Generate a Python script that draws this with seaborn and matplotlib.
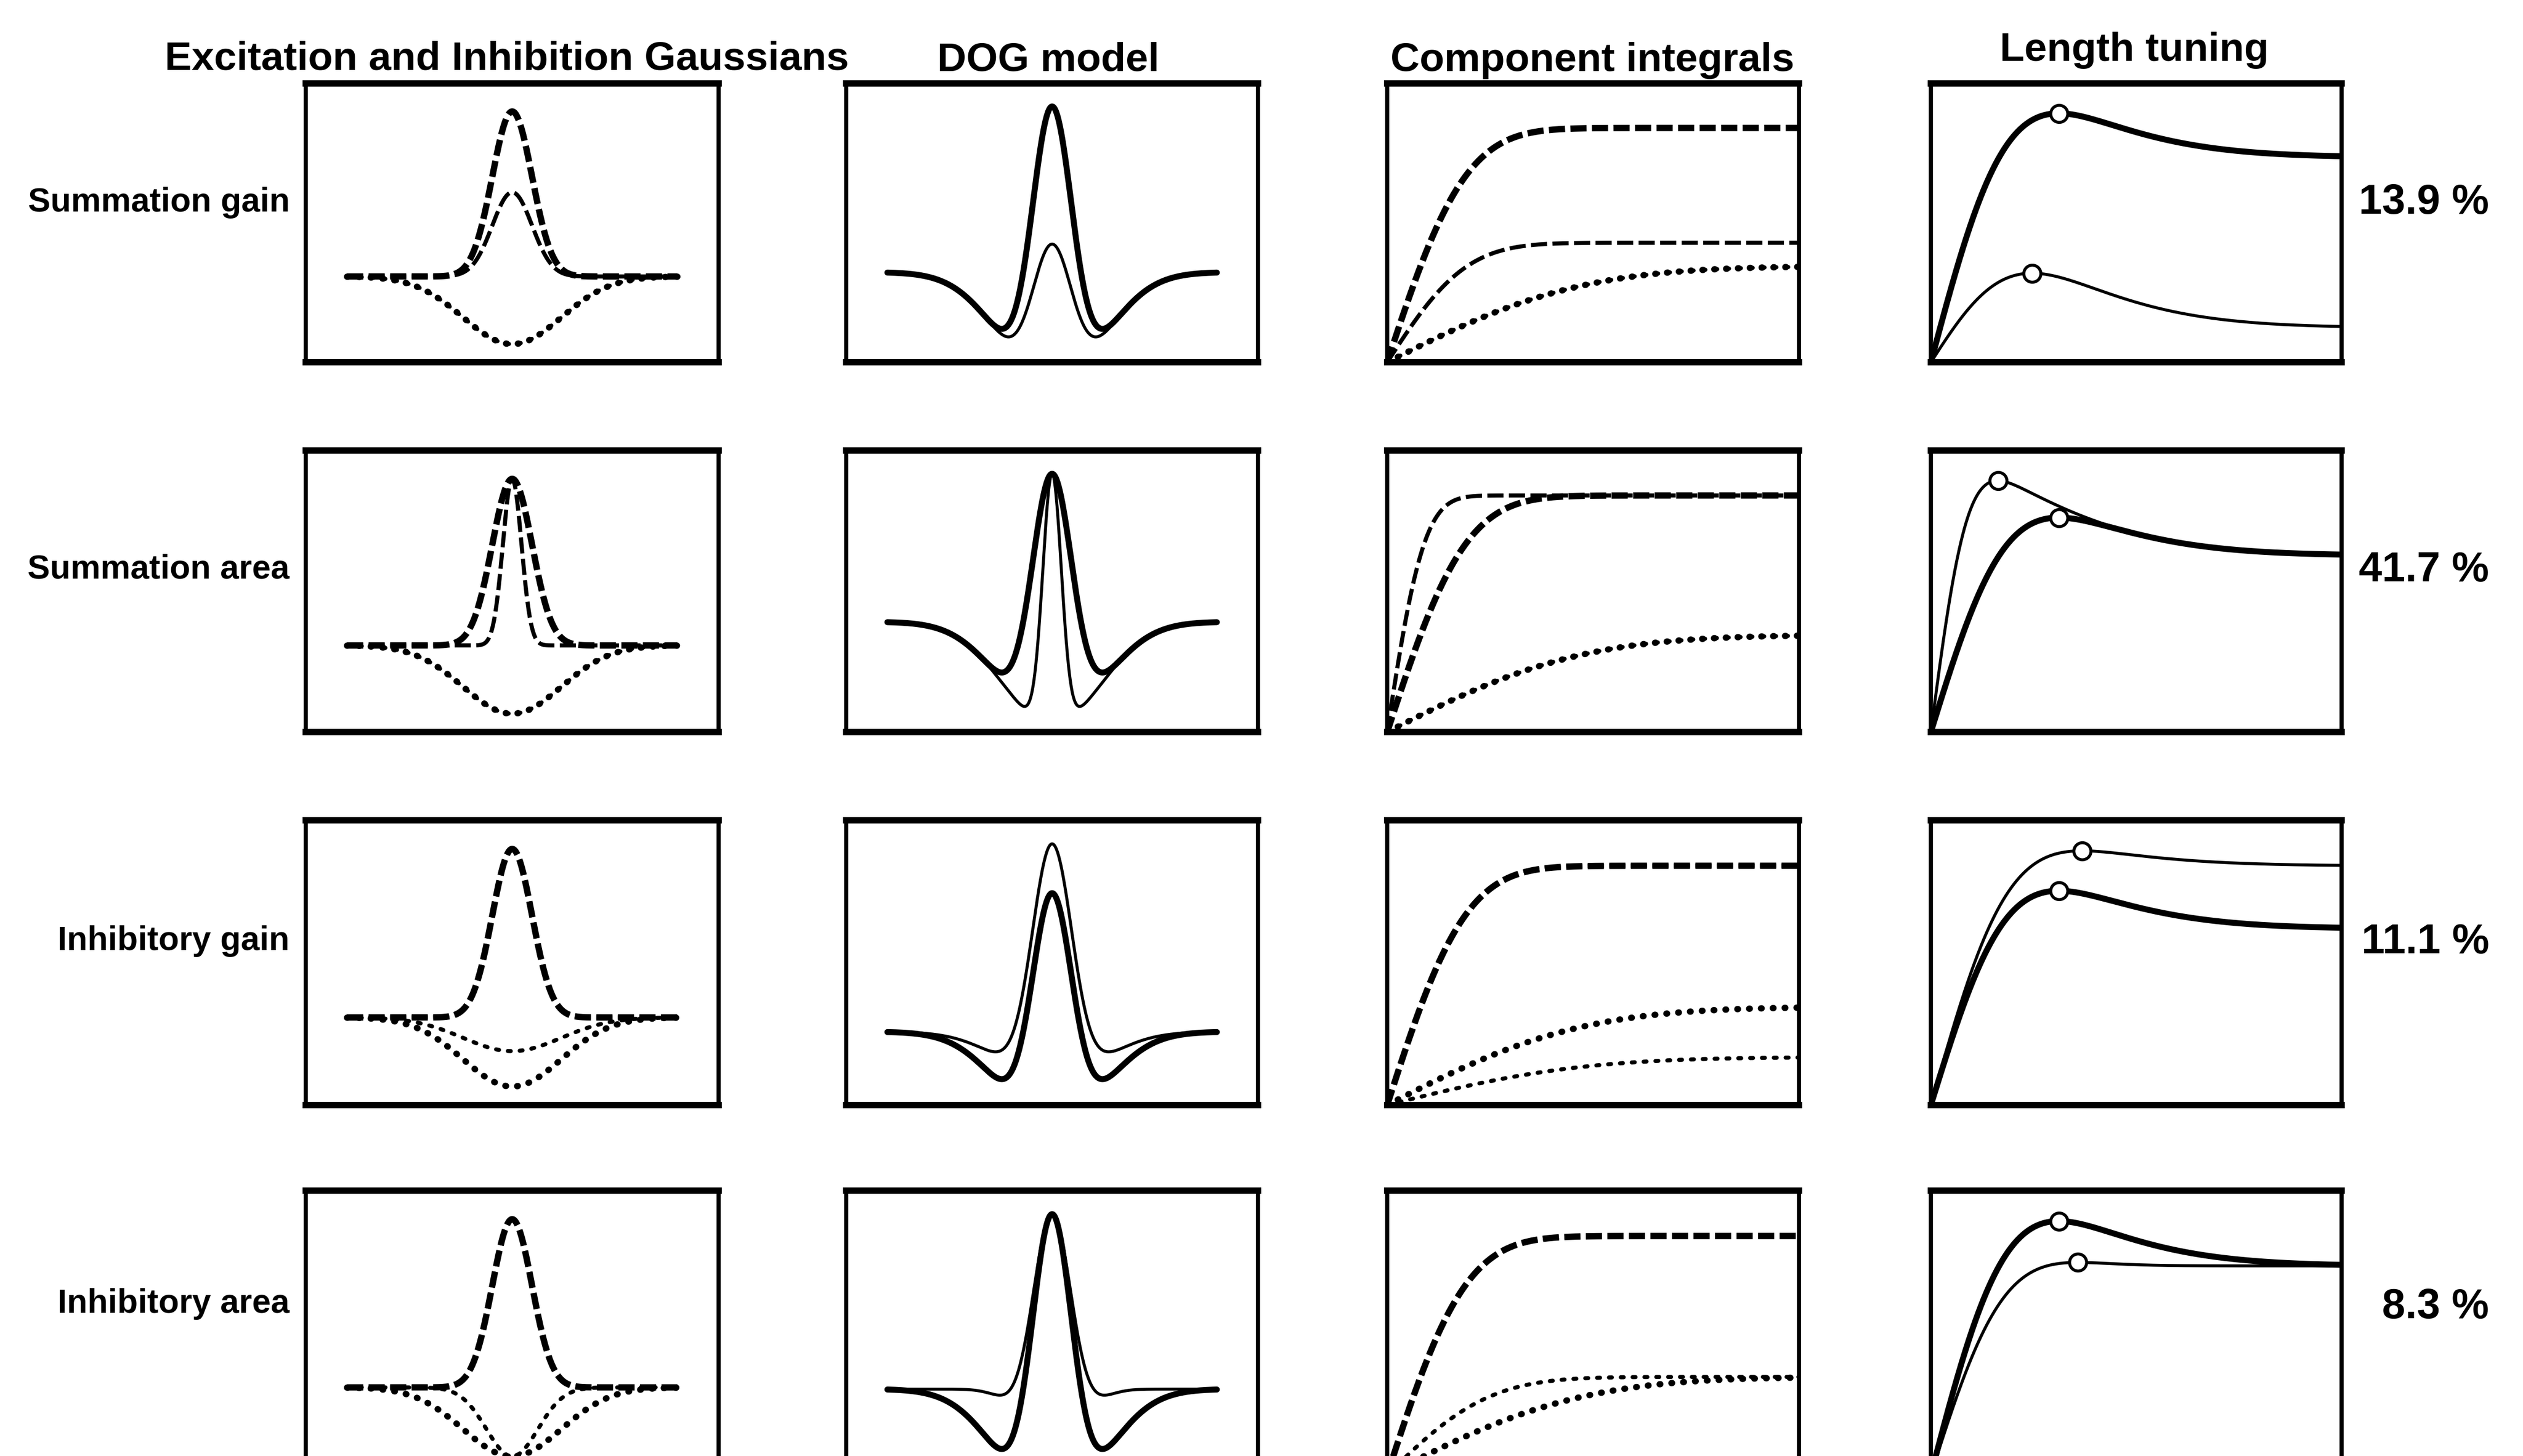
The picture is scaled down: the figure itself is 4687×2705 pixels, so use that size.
import math
import numpy as np
import pandas as pd
import matplotlib
matplotlib.use("Agg")
import matplotlib.pyplot as plt
import seaborn as sns
from matplotlib import font_manager as fm

# ---------------- data ----------------
column_titles = ["Excitation and Inhibition Gaussians", "DOG model",
                 "Component integrals", "Length tuning"]
conditions = ["Summation gain", "Summation area", "Inhibitory gain", "Inhibitory area"]
percent_labels = ["13.9 %", "41.7 %", "11.1 %", "8.3 %"]

# control model (thick lines), same in every row
ctrl_gain_exc = 1.0
ctrl_width_exc = 0.17
ctrl_gain_inh = 0.41
ctrl_width_inh = 0.42
# modified model of each row (thin lines)
mod_gain_exc = [0.51, 1.00, 1.00, 1.00]
mod_width_exc = [0.17, 0.08, 0.17, 0.17]
mod_gain_inh = [0.41, 0.41, 0.20, 0.41]
mod_width_inh = [0.42, 0.42, 0.42, 0.22]

# sampling grids (visual space and stimulus length)
space = np.linspace(-1.0, 1.0, 601)
length = np.linspace(0.0, 0.80, 601)

# ---------------- style ----------------
sns.set_style("white")
names = {f.name for f in fm.fontManager.ttflist}
NARROW = "Liberation Sans Narrow" in names
if NARROW:
    head_family = ["Liberation Sans Narrow", "DejaVu Sans"]
    title_size, pct_size = 66, 66
else:
    head_family = ["Liberation Sans", "DejaVu Sans"]
    title_size, pct_size = 54, 56
row_family = ["Liberation Sans", "DejaVu Sans"]
row_size = 45
plt.rcParams["font.family"] = ["Liberation Sans", "DejaVu Sans"]
plt.rcParams["text.color"] = "black"

W, H = 4687, 2705
fig = plt.figure(figsize=(W / 100, H / 100), dpi=100)

col_px = [(568, 1335), (1572, 2337), (2577, 3342), (3587, 4350)]
row_px = [(155, 673), (837, 1360), (1524, 2053), (2212, 2740)]

PX = 100 / 72.0  # pixels per point
LW_THICK = 8.0
LW_THIN = 4.0
LW_DASH_THICK = 8.5
LW_DASH_THIN = 5.5


def dash_style(lw):
    lwpx = lw * PX
    return (0, (30 / lwpx, 10 / lwpx))


def dot_style(lw):
    lwpx = lw * PX
    on = max(0.08, (13 - lwpx) / lwpx)
    return (0, (on, 22 / lwpx - on))


erf = np.vectorize(math.erf)


def gauss(k, s):
    return k * np.exp(-(space / s) ** 2)


def integral(k, s):
    return k * erf(length / s)


def make_ax(r, c):
    x0, x1 = col_px[c]
    y0, y1 = row_px[r]
    ax = fig.add_axes([x0 / W, 1 - y1 / H, (x1 - x0) / W, (y1 - y0) / H])
    ax.set_xticks([])
    ax.set_yticks([])
    for side in ["top", "bottom"]:
        ax.spines[side].set_linewidth(8.5)
    for side in ["left", "right"]:
        ax.spines[side].set_linewidth(5.5)
    for sp in ax.spines.values():
        sp.set_color("black")
        sp.set_visible(True)
    ax.set_facecolor("white")
    return ax


def line(ax, x, y, lw, kind, z):
    if kind == "solid":
        ls, cap = "-", "round"
    elif kind == "dash":
        ls, cap = dash_style(lw), "butt"
    else:
        ls, cap = dot_style(lw), "round"
    sns.lineplot(x=x, y=y, ax=ax, color="black", linewidth=lw, linestyle=ls,
                 dash_capstyle=cap, solid_capstyle="round", zorder=z,
                 sort=False, estimator=None)


for r in range(4):
    models = [
        (ctrl_gain_exc, ctrl_width_exc, ctrl_gain_inh, ctrl_width_inh, True),
        (mod_gain_exc[r], mod_width_exc[r], mod_gain_inh[r], mod_width_inh[r], False),
    ]
    axs = [make_ax(r, c) for c in range(4)]
    dog_all, tune_all = [], []
    for ke, se, ki, si, thick in models:
        lw = LW_THICK if thick else LW_THIN
        lwd = LW_DASH_THICK if thick else LW_DASH_THIN
        z = 3 if thick else 4
        exc = gauss(ke, se)
        inh = gauss(ki, si)
        # column 1: excitation (dashed) and inhibition (dotted) Gaussians
        line(axs[0], space, exc, lwd, "dash", z)
        line(axs[0], space, -inh, lwd, "dot", z)
        # column 2: DOG
        dog = exc - inh
        dog_all.append(dog)
        line(axs[1], space, dog, lw, "solid", z)
        # column 3: component integrals
        e_int = integral(ke, se)
        i_int = integral(ki, si)
        line(axs[2], length, e_int, lwd, "dash", z)
        line(axs[2], length, i_int, lwd, "dot", z)
        # column 4: length tuning with peak marker
        tune = e_int - i_int
        tune_all.append(tune)
        line(axs[3], length, tune, lw, "solid", z)
        k = int(np.argmax(tune))
        sns.scatterplot(x=[length[k]], y=[tune[k]], ax=axs[3], s=520, marker="o",
                        color="white", edgecolor="black", linewidth=4.0, zorder=6,
                        legend=False)

    axs[0].set_xlim(-1.25, 1.25)
    axs[0].set_ylim(-0.52, 1.17)
    axs[1].set_xlim(-1.25, 1.25)
    lo = min(d.min() for d in dog_all)
    hi = max(d.max() for d in dog_all)
    rng = hi - lo
    axs[1].set_ylim(lo - 0.11 * rng, hi + 0.10 * rng)
    axs[2].set_xlim(0, length[-1])
    axs[2].set_ylim(0, 1.19)
    axs[3].set_xlim(0, length[-1])
    axs[3].set_ylim(0, 1.12 * max(t.max() for t in tune_all))
    for ax in axs:
        ax.set_xlabel("")
        ax.set_ylabel("")

# ---------------- texts ----------------
title_x = [942, 1947, 2958, 3965]
title_base = [130, 132, 132, 113]
for t, x, yb in zip(column_titles, title_x, title_base):
    fig.text(x / W, 1 - yb / H, t, ha="center", va="baseline", color="black",
             fontsize=title_size, fontweight="bold", family=head_family)

row_center = [371, 1052, 1743, 2417]
for lab, yc in zip(conditions, row_center):
    cap = 0.72 * row_size * PX
    fig.text(538 / W, 1 - (yc + cap / 2) / H, lab, ha="right", va="baseline",
             color="black", fontsize=row_size, fontweight="bold", family=row_family)

for lab, yc in zip(percent_labels, [369, 1052, 1743, 2421]):
    cap = 0.72 * pct_size * PX
    fig.text(4624 / W, 1 - (yc + cap / 2) / H, lab, ha="right", va="baseline",
             color="black", fontsize=pct_size, fontweight="bold", family=head_family)

fig.savefig("out.png", dpi=100, facecolor="white")
